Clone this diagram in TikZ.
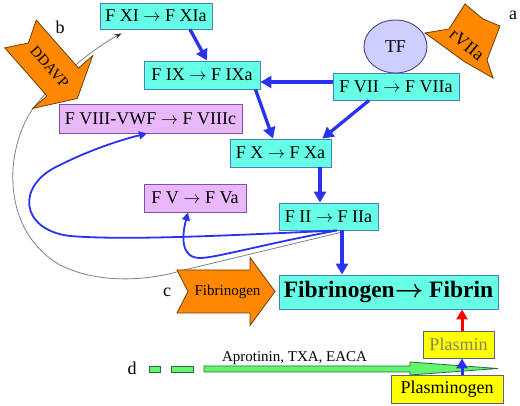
\documentclass[tikz,border=0pt]{standalone}
\usepackage{fontspec}
\setmainfont{Liberation Serif}
\usetikzlibrary{arrows.meta,shapes.geometric}
\definecolor{cyanfill}{RGB}{102,255,230}
\definecolor{cyanline}{RGB}{70,130,190}
\definecolor{pinkfill}{RGB}{232,184,250}
\definecolor{pinkline}{RGB}{130,80,170}
\definecolor{tffill}{RGB}{206,206,255}
\definecolor{tfline}{RGB}{70,70,130}
\definecolor{orangefill}{RGB}{255,136,0}
\definecolor{orangeline}{RGB}{110,60,10}
\definecolor{yellowfill}{RGB}{255,255,0}
\definecolor{yellowline}{RGB}{90,100,130}
\definecolor{arrowblue}{RGB}{40,50,240}
\definecolor{greenfill}{RGB}{100,245,110}
\definecolor{greenline}{RGB}{40,110,60}
\definecolor{plasmintext}{RGB}{135,135,95}
\tikzset{
  basebox/.style={rectangle, inner sep=0pt, line width=0.9pt, font=\fontsize{18}{20}\selectfont},
  cyanbox/.style={basebox, draw=cyanline, fill=cyanfill},
  pinkbox/.style={basebox, draw=pinkline, fill=pinkfill},
  yellowbox/.style={basebox, draw=yellowline, fill=yellowfill},
  thickarrow/.style={draw=arrowblue, line width=3.3pt, -{Triangle[length=11pt,width=12pt]}},
  thinarrow/.style={draw=arrowblue, line width=1.8pt, -{Triangle[length=8pt,width=8pt]}},
  greyline/.style={draw=gray, line width=0.8pt, -{Stealth[length=7pt,width=5pt,color=black!80]}},
  orangeshape/.style={fill=orangefill, draw=orangeline, line width=0.8pt, line join=miter},
  greenshape/.style={fill=greenfill, draw=greenline, line width=0.8pt},
  lettertext/.style={font=\fontsize{18}{20}\selectfont, inner sep=0pt},
  smalltext/.style={font=\fontsize{15}{17}\selectfont, inner sep=0pt}
}
\begin{document}
\begin{tikzpicture}[x=1pt,y=-1pt]
\useasboundingbox (0,0) rectangle (520,406);
\fill[white] (0,0) rectangle (520,406);

% nodes (boxes)
\node[cyanbox, minimum width=112pt, minimum height=26pt] (f11) at (156,16) {F XI \(\rightarrow\) F XIa};
\node[cyanbox, minimum width=116pt, minimum height=28pt] (f9) at (202,75) {F IX \(\rightarrow\) F IXa};
\node[cyanbox, minimum width=101pt, minimum height=28pt] (f10) at (280.5,153) {F X \(\rightarrow\) F Xa};
\node[cyanbox, minimum width=99pt, minimum height=27pt] (f2) at (328.5,216.5) {F II \(\rightarrow\) F IIa};
\node[pinkbox, minimum width=183pt, minimum height=29pt] (f8) at (150.5,118.5) {F VIII-VWF \(\rightarrow\) F VIIIc};
\node[pinkbox, minimum width=102pt, minimum height=28pt] (f5) at (195,198) {F V \(\rightarrow\) F Va};
\node[cyanbox, minimum width=219pt, minimum height=34pt, font=\fontsize{23.5}{26}\selectfont\bfseries] (fib) at (388.5,292) {Fibrinogen{\boldmath\(\rightarrow\)} Fibrin};
\node[yellowbox, minimum width=71pt, minimum height=27pt, text=plasmintext] (plasmin) at (458.5,344.5) {Plasmin};

% grey curve from F II round to F XI (behind DDAVP)
\draw[greyline] ([xshift=12pt,yshift=-2pt]f2.south) -- (180,271) .. controls (150,280) and (100,285) .. (60,265)
   .. controls (0,230) and (5,150) .. (32,110) .. controls (50,85) and (90,50) .. ([xshift=22pt,yshift=-4pt]f11.south west);

% orange arrows
\path[orangeshape] (36.25,20.1) -- (78.5,68.1) -- (92.7,55.6) -- (77.3,98.5) -- (32.7,108.4) -- (47,95.9) -- (4.75,47.9) -- (28.4,43) -- cycle;
\node[smalltext, rotate=-48.7] (ddavp) at (49.5,67) {DDAVP};

\path[orangeshape] (465,4) -- (483,19) -- (500,26) -- (487,60) -- (493,78) -- (465,62) -- (425,33) -- (449,29) -- cycle;
\node[lettertext, rotate=-40] (rvii) at (467,45) {rVIIa};

\path[orangeshape] (177,270) -- (250,270) -- (250,257.5) -- (275,291.5) -- (250,325.5) -- (250,313) -- (177,313) -- (188,291.5) -- cycle;
\node[smalltext] (fibg) at (227.5,292) {Fibrinogen};

% TF and F VII
\node[ellipse, draw=tfline, fill=tffill, line width=0.9pt, minimum width=63pt, minimum height=53pt, inner sep=0pt, font=\fontsize{18}{20}\selectfont] (tf) at (395.5,46.5) {TF};
\node[cyanbox, minimum width=126pt, minimum height=27pt] (f7) at (396,86.5) {F VII \(\rightarrow\) F VIIa};

% green dashed arrow
\path[greenshape] (149,366) rectangle (160,372);
\path[greenshape] (171,366) rectangle (193,372);
\path[greenshape] (204,366) -- (410,366) -- (410,362) -- (498,368.5) -- (410,375) -- (410,372) -- (204,372) -- cycle;
\node[smalltext, anchor=base] (drugs) at (294.5,362) {Aprotinin, TXA, EACA};

\node[yellowbox, minimum width=112pt, minimum height=28pt] (plg) at (447,389) {Plasminogen};

% letters
\node[lettertext] (la) at (513,15) {a};
\node[lettertext] (lb) at (60,27) {b};
\node[lettertext] (lc) at (167,292) {c};
\node[lettertext] (ld) at (132,368) {d};

% thick blue arrows
\draw[thickarrow] ([xshift=34pt]f11.south) -- ([xshift=5pt]f9.north);
\draw[thickarrow] ([yshift=4.5pt]f7.west) -- ([yshift=-7pt]f9.east);
\draw[thickarrow] ([xshift=-5pt]f9.south east) -- ([xshift=-7.5pt]f10.north);
\draw[thickarrow] ([xshift=-27pt]f7.south) -- ([xshift=-9pt]f10.north east);
\draw[thickarrow] ([xshift=39.5pt]f10.south) -- ([xshift=-8.5pt]f2.north);
\draw[thickarrow] ([xshift=13.5pt]f2.south) -- ([xshift=-46.5pt]fib.north);
\draw[draw=red, line width=3pt, -{Triangle[length=10pt,width=11pt]}] ([xshift=3.5pt]plasmin.north) -- ([xshift=73.5pt]fib.south);
\draw[draw=arrowblue, line width=3pt, -{Triangle[length=10pt,width=11pt]}] ([xshift=15pt]plg.north) -- ([xshift=3.5pt]plasmin.south);

% thin blue curves
\draw[thinarrow] ([xshift=8.5pt]f2.south) .. controls (200,237) and (120,240) .. (70,236)
   .. controls (20,230) and (15,185) .. (60,165) .. controls (90,150) and (120,140) .. ([xshift=-3.5pt]f8.south);
\draw[thinarrow] ([xshift=8.5pt]f2.south) .. controls (260,245) and (215,258) .. (200,258)
   .. controls (180,258) and (182,235) .. ([xshift=-7pt]f5.south);
\end{tikzpicture}
\end{document}
